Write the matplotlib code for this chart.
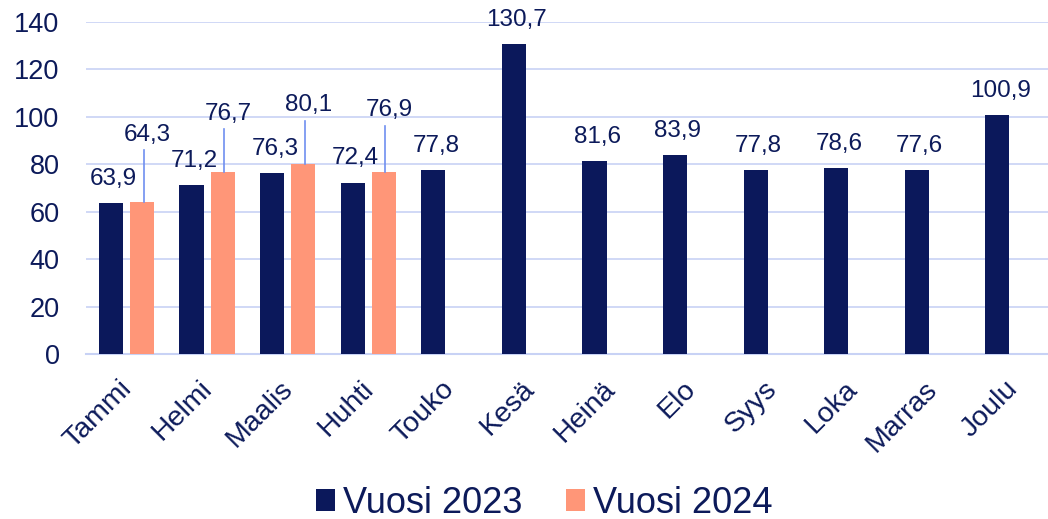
import numpy as np
import matplotlib.pyplot as plt

# Kuukaudet ja arvot
months = ["Tammi", "Helmi", "Maalis", "Huhti", "Touko", "Kesä",
          "Heinä", "Elo", "Syys", "Loka", "Marras", "Joulu"]
v2023 = [63.9, 71.2, 76.3, 72.4, 77.8, 130.7, 81.6, 83.9, 77.8, 78.6, 77.6, 100.9]
v2024 = [64.3, 76.7, 80.1, 76.9]

navy = "#0b185b"
salmon = "#ff9678"
txt = "#0c1a5a"
grid = "#c8d2f5"
lead = "#6f8ff0"

plt.rcParams['font.family'] = ['Liberation Sans', 'DejaVu Sans']

fig = plt.figure(figsize=(10.48, 5.19), dpi=100)
ax = fig.add_axes([86/1048, 0.317, 967/1048, 0.6407])

x = np.arange(len(months))
w = 0.30
off = 0.385
ax.bar(x, v2023, width=w, color=navy, label="Vuosi 2023", zorder=3)
x2 = np.arange(len(v2024)) + off
ax.bar(x2, v2024, width=w, color=salmon, label="Vuosi 2024", zorder=3)

ax.set_xlim(-0.31, 11.69)
ax.set_ylim(0, 140)
ax.set_yticks(np.arange(0, 141, 20))
ax.yaxis.grid(True, color=grid, lw=1.2, zorder=0)
for s in ["top", "right", "left"]:
    ax.spines[s].set_visible(False)
ax.spines["bottom"].set_color(grid)
ax.spines["bottom"].set_linewidth(1.5)
ax.tick_params(axis="y", length=0, pad=19, labelsize=19.5, labelcolor=txt)
ax.tick_params(axis="x", length=0, pad=22, labelsize=20.5, labelcolor=txt)
ax.set_xticks(x + 0.21)
ax.set_xticklabels(months, rotation=45, ha="right", va="center",
                   rotation_mode="anchor")

def fmt(v):
    return f"{v:.1f}".replace(".", ",")

# 2023 labels
for xi, v in zip(x, v2023):
    ax.annotate(fmt(v), (xi, v), xytext=(2, 13), textcoords="offset points",
                ha="center", va="baseline", fontsize=17.5, color=txt,
                annotation_clip=False)

# 2024 labels lifted up with leader lines
lift = [44, 38, 38, 40]
for xi, v, lf in zip(x2, v2024, lift):
    ax.annotate(fmt(v), (xi, v), xytext=(4, lf), textcoords="offset points",
                ha="center", va="baseline", fontsize=17.5, color=txt,
                annotation_clip=False)
    ax.plot([xi + 0.02, xi + 0.02], [v, v + (lf - 7) / 0.72 / 2.375],
            color=lead, lw=1.2, zorder=4, clip_on=False)

fig.legend(loc="center", bbox_to_anchor=(0.519, 0.03), ncol=2, frameon=False,
           fontsize=26, handlelength=0.53, handleheight=0.53,
           handletextpad=0.22, columnspacing=1.2, labelcolor=txt)

fig.savefig("out.png", dpi=100)
